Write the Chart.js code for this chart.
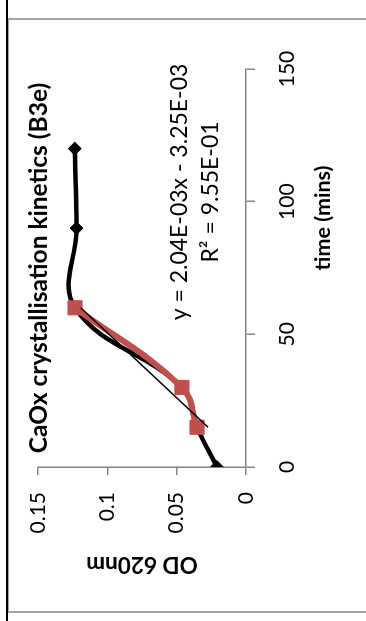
<!DOCTYPE html>
<html>
<head>
<meta charset="utf-8">
<script src="https://cdn.jsdelivr.net/npm/chart.js@4"></script>
<style>
  html, body { margin: 0; padding: 0; background: #fff; width: 366px; height: 621px; overflow: hidden; }
  /* the chart is laid out upright, then turned a quarter turn anticlockwise */
  #frame { position: absolute; left: 0; top: 0; width: 595px; height: 380px;
           transform-origin: 0 0; transform: translate(7px, 613px) rotate(-90deg); }
  #frame canvas { position: absolute; left: 0; top: 0; }
  #edge { position: absolute; left: 0; top: 0; width: 595px; height: 380px; box-sizing: border-box;
          border: 2px solid #a3a3a3; pointer-events: none; }
  #rule { position: absolute; left: 6px; top: 0; width: 2px; height: 621px; background: #000; }
</style>
</head>
<body>
<div id="frame"><canvas id="c" width="595" height="380"></canvas><div id="edge"></div></div>
<div id="rule"></div>
<script>
// Axis ticks
const timeTicks = [0, 50, 100, 150];
const odTicks = [0, 0.05, 0.1, 0.15];
const odTickLabels = ['0', '0.05', '0.1', '0.15'];

// Full run (black) and the fitted growth segment (red)
const blackTime = [0, 15, 30, 60, 90, 120];
const blackOD = [0.021, 0.0353, 0.0462, 0.1233, 0.1222, 0.1235];
const redTime = [15, 30, 60];
const redOD = [0.0353, 0.0462, 0.1233];

// Linear fit of the growth segment
const trendSlope = 2.04e-3;
const trendIntercept = -3.25e-3;
const trendRange = [15, 60];

const titleText = 'CaOx crystallisation kinetics (B3e)';
const xTitle = 'time (mins)';
const yTitle = 'OD 620nm';
const eqLines = ['y = 2.04E-03x - 3.25E-03', 'R\u00B2 = 9.55E-01'];

const AXIS = '#868686';
const RED = '#C0504D';
const FONT = 'Lato';

const pts = (xs, ys) => xs.map((x, i) => ({ x, y: ys[i] }));

// Time-axis caption and the fit equation
const captions = {
  id: 'captions',
  afterDraw(chart) {
    const ctx = chart.ctx;
    ctx.save();
    ctx.fillStyle = '#000';
    ctx.textAlign = 'center';
    ctx.textBaseline = 'middle';
    ctx.font = 'bold 21.5px ' + FONT;
    ctx.fillText(xTitle, 395, 316);
    ctx.font = '23px ' + FONT;
    ctx.fillText(eqLines[0], 421, 173);
    ctx.fillText(eqLines[1], 421, 204);
    ctx.restore();
  }
};

function build() {
  new Chart(document.getElementById('c'), {
    type: 'scatter',
    data: {
      datasets: [
        {
          data: trendRange.map(t => ({ x: t, y: trendSlope * t + trendIntercept })),
          showLine: true, borderColor: '#000', borderWidth: 1.5, pointRadius: 0, tension: 0, order: 0
        },
        {
          data: pts(redTime, redOD),
          showLine: true, borderColor: RED, borderWidth: 6, tension: 0.4,
          pointStyle: 'rect', pointRadius: 10, pointBackgroundColor: RED, pointBorderColor: RED, pointBorderWidth: 1,
          order: 1
        },
        {
          data: pts(blackTime, blackOD),
          showLine: true, borderColor: '#000', borderWidth: 4.5, tension: 0.4,
          pointStyle: 'rectRot', pointRadius: 6.5, pointBackgroundColor: '#000', pointBorderColor: '#000', pointBorderWidth: 1,
          order: 2
        }
      ]
    },
    options: {
      responsive: false,
      animation: false,
      devicePixelRatio: 1,
      layout: { padding: { left: 0, right: 51, top: 0, bottom: 0 } },
      plugins: {
        legend: { display: false },
        tooltip: { enabled: false },
        title: {
          display: true, text: titleText, fullSize: false, color: '#000',
          font: { family: FONT, size: 24.5, weight: 'bold' },
          padding: { top: 16.9, bottom: -15.3 }
        }
      },
      scales: {
        x: {
          type: 'linear', position: 'bottom', min: 0, max: 150,
          afterBuildTicks: s => { s.ticks = timeTicks.map(v => ({ value: v })); },
          afterFit: s => { s.height = 141; },
          grid: { drawOnChartArea: false, drawTicks: true, tickLength: 9, color: AXIS, lineWidth: 1.5 },
          border: { color: AXIS, width: 1.5 },
          ticks: { color: '#000', font: { family: FONT, size: 21 }, padding: 20, maxRotation: 0, minRotation: 0 }
        },
        y: {
          type: 'linear', min: 0, max: 0.15,
          afterBuildTicks: s => { s.ticks = odTicks.map(v => ({ value: v })); },
          afterFit: s => { s.width = 146; },
          grid: { drawOnChartArea: false, drawTicks: true, tickLength: 8, color: AXIS, lineWidth: 1.5 },
          border: { color: AXIS, width: 1.5 },
          ticks: { color: '#000', font: { family: FONT, size: 21 }, padding: 17,
                   callback: v => odTickLabels[odTicks.indexOf(v)] },
          title: { display: true, text: yTitle, color: '#000',
                   font: { family: FONT, size: 22.5, weight: 'bold' }, padding: { top: 35, bottom: 0 } }
        }
      }
    },
    plugins: [captions]
  });
}

Promise.all([
  document.fonts.load('21px Lato'),
  document.fonts.load('bold 21px Lato')
]).then(build, build);
</script>
</body>
</html>
